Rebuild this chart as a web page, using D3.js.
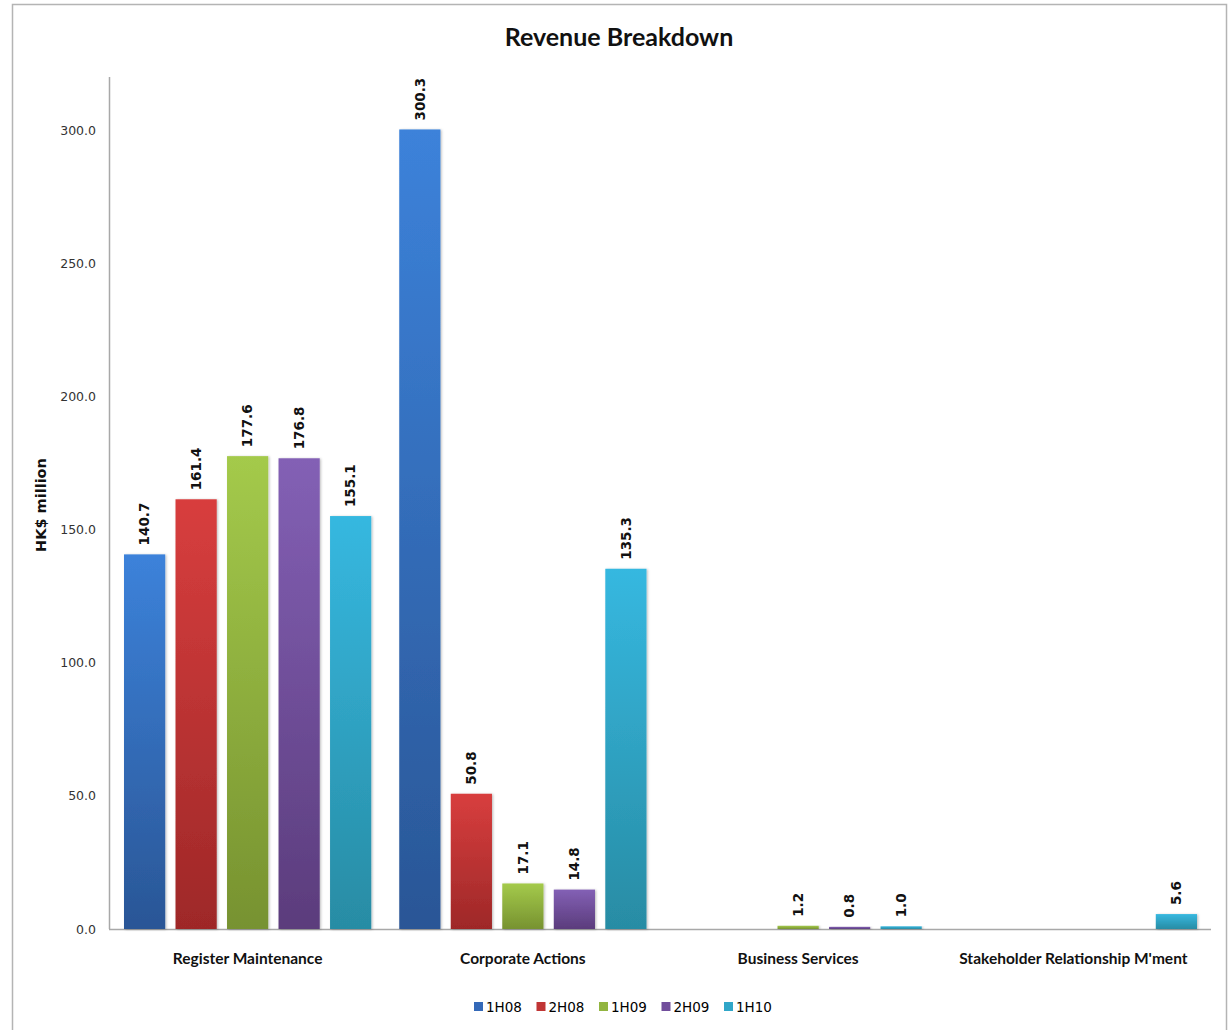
<!DOCTYPE html>
<html>
<head>
<meta charset="utf-8">
<script src="https://cdn.jsdelivr.net/npm/d3@7/dist/d3.min.js"></script>
<style>
  html, body { margin: 0; padding: 0; background: #fff; }
  svg { display: block; }
</style>
</head>
<body>
<svg id="chart" width="1228" height="1030"></svg>
<script>
// Revenue by business line, HK$ million, per half-year period
const categories = ["Register Maintenance", "Corporate Actions", "Business Services", "Stakeholder Relationship M'ment"];
const periods = ["1H08", "2H08", "1H09", "2H09", "1H10"];
const values1H08 = [140.7, 300.3, null, null];
const values2H08 = [161.4, 50.8, null, null];
const values1H09 = [177.6, 17.1, 1.2, null];
const values2H09 = [176.8, 14.8, 0.8, null];
const values1H10 = [155.1, 135.3, 1.0, 5.6];
const yTicks = [0, 50, 100, 150, 200, 250, 300];

const seriesValues = [values1H08, values2H08, values1H09, values2H09, values1H10];

// gradient stops (top, bottom) and legend swatch colour for each period
const palette = {
  "1H08": { top: "#3c82da", bottom: "#2a5696", swatch: "#3469b8" },
  "2H08": { top: "#d83e3e", bottom: "#9e2828", swatch: "#c03535" },
  "1H09": { top: "#a4ca4b", bottom: "#779230", swatch: "#92b540" },
  "2H09": { top: "#8360b5", bottom: "#5b3c7c", swatch: "#714e9c" },
  "1H10": { top: "#36b8e0", bottom: "#288ca4", swatch: "#30a6c8" }
};

const svg = d3.select("#chart");
const W = 1228, H = 1030;
const plot = { left: 110, right: 1211, top: 77, bottom: 929 };

// outer frame
svg.append("rect")
  .attr("x", 12.5).attr("y", 4.5)
  .attr("width", 1214).attr("height", H + 10)
  .attr("fill", "#fff")
  .attr("stroke", "#b4b4b4").attr("stroke-width", 1.5);

const defs = svg.append("defs");
periods.forEach((p, i) => {
  const g = defs.append("linearGradient")
    .attr("id", "grad" + i)
    .attr("x1", 0).attr("y1", 0).attr("x2", 0).attr("y2", 1);
  g.append("stop").attr("offset", "0%").attr("stop-color", palette[p].top);
  g.append("stop").attr("offset", "100%").attr("stop-color", palette[p].bottom);
});
const shadow = defs.append("filter").attr("id", "barShadow")
  .attr("x", "-10%").attr("y", "-10%").attr("width", "130%").attr("height", "120%");
shadow.append("feDropShadow")
  .attr("dx", 1.2).attr("dy", 0.5).attr("stdDeviation", 1)
  .attr("flood-color", "#000").attr("flood-opacity", 0.25);

const x0 = d3.scaleBand().domain(categories).range([plot.left, plot.right]);
const x1 = d3.scaleBand().domain(periods)
  .range([14, x0.bandwidth() - 14]).paddingInner(0.2);
const y = d3.scaleLinear().domain([0, 320]).range([plot.bottom, plot.top]);

// title
svg.append("text")
  .attr("x", 619).attr("y", 46)
  .attr("text-anchor", "middle")
  .attr("font-family", "Lato, 'Open Sans', sans-serif")
  .attr("font-weight", "bold")
  .attr("font-size", 25)
  .attr("fill", "#111")
  .text("Revenue Breakdown");

// y axis
const yAxis = d3.axisLeft(y).tickValues(yTicks).tickFormat(d3.format(".1f")).tickSize(0).tickPadding(13);
const yg = svg.append("g").attr("transform", `translate(${plot.left - 1},0)`).call(yAxis);
yg.select(".domain").attr("stroke", "#a8a8a8").attr("stroke-width", 1.5)
  .attr("d", `M0.5,${plot.top}V${plot.bottom}`);
yg.selectAll(".tick text")
  .attr("font-family", "'DejaVu Sans', Verdana, sans-serif")
  .attr("font-size", 12.5)
  .attr("fill", "#333");

svg.append("text")
  .attr("transform", `translate(46,505) rotate(-90)`)
  .attr("text-anchor", "middle")
  .attr("font-family", "'DejaVu Sans', Verdana, sans-serif")
  .attr("font-weight", "bold")
  .attr("font-size", 14.5)
  .attr("fill", "#111")
  .text("HK$ million");

// x axis
const xAxis = d3.axisBottom(x0).tickSize(0).tickPadding(24);
const xg = svg.append("g").attr("transform", `translate(0,${plot.bottom})`).call(xAxis);
xg.select(".domain").attr("stroke", "#a8a8a8").attr("stroke-width", 1.5)
  .attr("d", `M${plot.left - 1},0.5H${plot.right}`);
xg.selectAll(".tick text")
  .attr("font-family", "Lato, 'Open Sans', sans-serif")
  .attr("font-weight", "bold")
  .attr("font-size", 15.5)
  .attr("fill", "#111");

// bars
const rows = [];
categories.forEach((c, ci) => {
  periods.forEach((p, pi) => {
    const v = seriesValues[pi][ci];
    if (v !== null) rows.push({ category: c, period: p, index: pi, value: v });
  });
});

const groups = svg.append("g").selectAll("g")
  .data(categories).join("g")
  .attr("transform", d => `translate(${x0(d)},0)`);

groups.selectAll("rect")
  .data(c => rows.filter(r => r.category === c))
  .join("rect")
  .attr("x", d => x1(d.period))
  .attr("y", d => y(d.value))
  .attr("width", x1.bandwidth())
  .attr("height", d => Math.max(2, y(0) - y(d.value)))
  .attr("fill", d => `url(#grad${d.index})`)
  .attr("filter", "url(#barShadow)");

// value labels, rotated above each bar
groups.selectAll("text.value")
  .data(c => rows.filter(r => r.category === c))
  .join("text")
  .attr("class", "value")
  .attr("transform", d => `translate(${x1(d.period) + x1.bandwidth() / 2},${Math.min(y(d.value), y(0) - 2) - 9}) rotate(-90)`)
  .attr("dy", "0.35em")
  .attr("text-anchor", "start")
  .attr("font-family", "'DejaVu Sans', Verdana, sans-serif")
  .attr("font-weight", "bold")
  .attr("font-size", 13.5)
  .attr("fill", "#111")
  .text(d => d3.format(".1f")(d.value));

// legend
const legend = svg.append("g").attr("transform", "translate(474,1007)");
const item = legend.selectAll("g").data(periods).join("g")
  .attr("transform", (d, i) => `translate(${i * 62.5},0)`);
item.append("rect")
  .attr("x", 0).attr("y", -5).attr("width", 9).attr("height", 9)
  .attr("fill", d => palette[d].swatch);
item.append("text")
  .attr("x", 12).attr("y", 0).attr("dy", "0.35em")
  .attr("font-family", "'DejaVu Sans', Verdana, sans-serif")
  .attr("font-size", 13.5)
  .attr("fill", "#000")
  .text(d => d);
</script>
</body>
</html>
